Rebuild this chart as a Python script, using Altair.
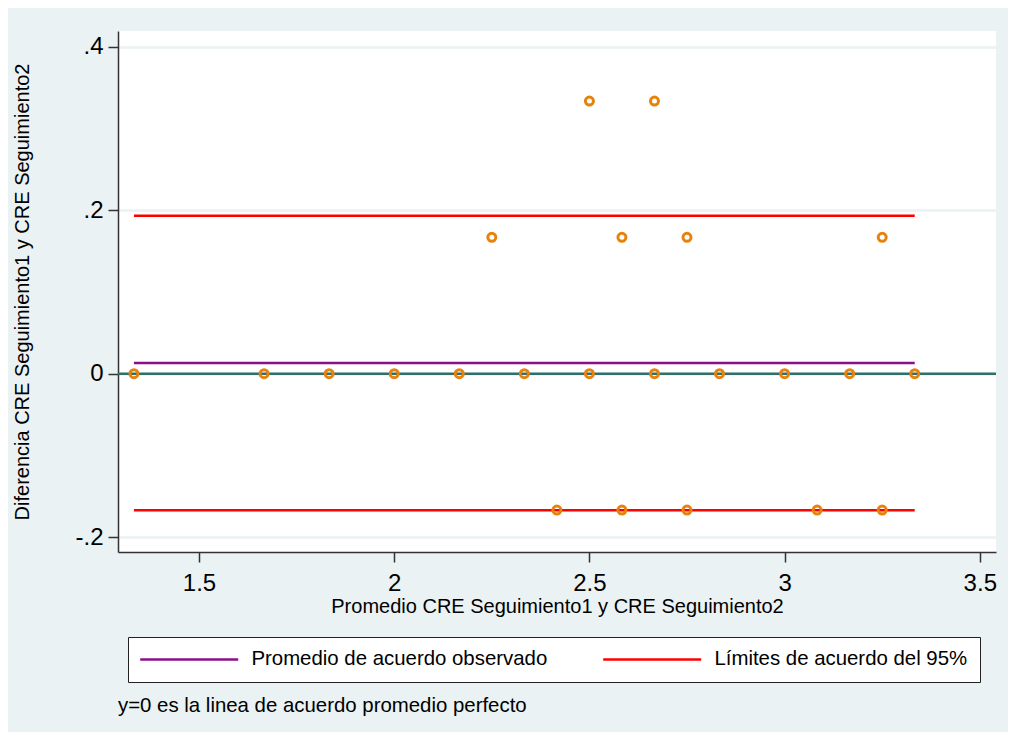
import altair as alt
import pandas as pd

# ---- data ----
pt_x = [1.3333, 1.6667, 1.8333, 2.0, 2.1667, 2.3333, 2.5, 2.6667, 2.8333, 3.0, 3.1667, 3.3333,
        2.25, 2.5833, 2.75, 3.25,
        2.5, 2.6667,
        2.4167, 2.5833, 2.75, 3.0833, 3.25]
pt_y = [0, 0, 0, 0, 0, 0, 0, 0, 0, 0, 0, 0,
        0.1667, 0.1667, 0.1667, 0.1667,
        0.3333, 0.3333,
        -0.1667, -0.1667, -0.1667, -0.1667, -0.1667]

series_names = ["Promedio de acuerdo observado", "Límites de acuerdo del 95%", "Límites de acuerdo del 95%"]
series_y = [0.0132, 0.193, -0.167]
line_x_start = [1.3333, 1.3333, 1.3333]
line_x_end = [3.3333, 3.3333, 3.3333]
legend_order = ["Promedio de acuerdo observado", "Límites de acuerdo del 95%"]
legend_colors = ["#8a0f8a", "#ff0000"]

x_ticks = [1.5, 2, 2.5, 3, 3.5]
x_tick_labels = ["1.5", "2", "2.5", "3", "3.5"]
y_ticks = [-0.2, 0, 0.2, 0.4]
y_tick_labels = ["-.2", "0", ".2", ".4"]

x_title = "Promedio CRE Seguimiento1 y CRE Seguimiento2"
y_title = "Diferencia CRE Seguimiento1 y CRE Seguimiento2"
note = "y=0 es la linea de acuerdo promedio perfecto"

x_domain = [1.2925, 3.5415]
y_domain = [-0.218, 0.419]

points = pd.DataFrame({"x": pt_x, "y": pt_y})
lines = pd.DataFrame({"serie": series_names, "y": series_y, "x": line_x_start, "x2": line_x_end})
zero = pd.DataFrame({"y": [0]})

def label_expr(vals, labels):
    parts = " : ".join(f"datum.value == {v} ? '{l}'" for v, l in zip(vals, labels))
    return parts + " : ''"

FONT = "Liberation Sans"

xscale = alt.Scale(domain=x_domain, nice=False, zero=False)
yscale = alt.Scale(domain=y_domain, nice=False, zero=False)

xaxis = alt.Axis(values=x_ticks, labelExpr=label_expr(x_ticks, x_tick_labels), title=x_title,
                 grid=False, domainColor="#333333", tickColor="#333333", tickSize=10,
                 labelFontSize=24, labelFont=FONT, labelColor="black", labelPadding=9,
                 titleFontSize=20, titleFont=FONT, titleFontWeight="normal", titleColor="black",
                 titlePadding=1, domainWidth=1.5, tickWidth=1.5)
yaxis = alt.Axis(values=y_ticks, labelExpr=label_expr(y_ticks, y_tick_labels), title=y_title,
                 grid=True, gridColor="#eaf2f3", gridWidth=2.5,
                 domainColor="#333333", tickColor="#333333", tickSize=10,
                 labelFontSize=24, labelFont=FONT, labelColor="black", labelPadding=5,
                 titleFontSize=20, titleFont=FONT, titleFontWeight="normal", titleColor="black",
                 titlePadding=42, domainWidth=1.5, tickWidth=1.5)

base_pts = alt.Chart(points).mark_point(shape="circle", filled=False, color="#e8820a",
                                         size=64, strokeWidth=3, opacity=1).encode(
    x=alt.X("x:Q", scale=xscale, axis=xaxis),
    y=alt.Y("y:Q", scale=yscale, axis=yaxis),
)

zero_line = alt.Chart(zero).mark_rule(color="#2f6e6a", strokeWidth=2.5).encode(
    y=alt.Y("y:Q", scale=yscale)
)

ref_lines = alt.Chart(lines).mark_rule(strokeWidth=2.5).encode(
    x=alt.X("x:Q", scale=xscale),
    x2="x2:Q",
    y=alt.Y("y:Q", scale=yscale),
    color=alt.Color("serie:N", scale=alt.Scale(domain=legend_order, range=legend_colors),
                    title=None,
                    legend=alt.Legend(orient="none", legendX=10, legendY=606,
                                      direction="horizontal", columns=2, columnPadding=50,
                                      symbolType="M-10,0H88", symbolSize=4, symbolStrokeWidth=2.5,
                                      labelFontSize=20.4, labelFont=FONT, labelColor="black",
                                      labelOffset=91, padding=12, strokeColor="#222222",
                                      fillColor="white", labelLimit=400)),
)

chart = alt.layer(zero_line, ref_lines, base_pts).properties(
    width=878, height=521,
    background="#eaf2f3",
    padding={"left": 110, "top": 23, "right": 12, "bottom": 180},
    autosize=alt.AutoSizeParams(type="none"),
    title=alt.TitleParams(note, orient="bottom", anchor="start", frame="group",
                          fontSize=20.4, font=FONT, fontWeight="normal", color="black", offset=13),
).configure_view(fill="white", stroke=None)

chart.save("out.html", embed_options={"renderer": "svg", "actions": False})
